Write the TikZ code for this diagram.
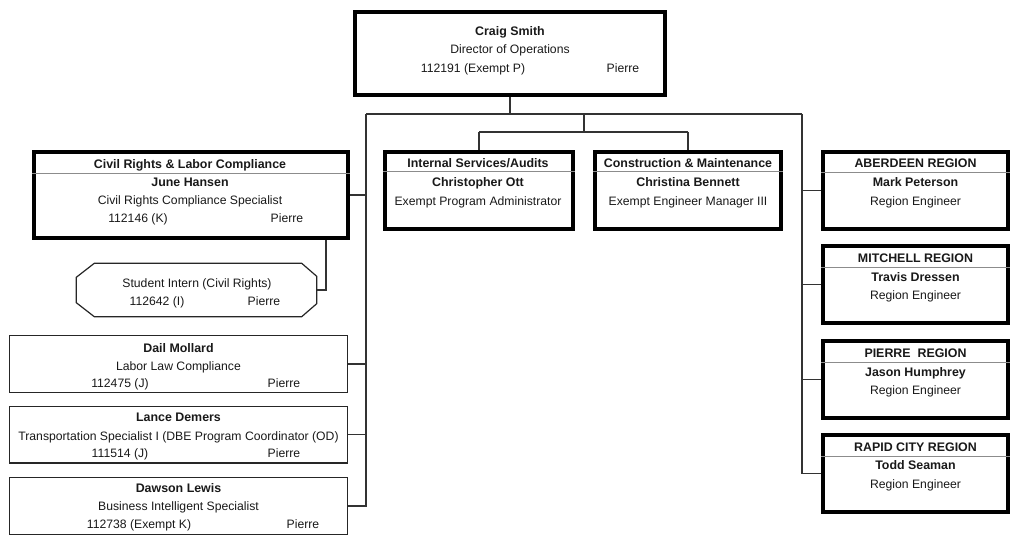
\documentclass[tikz,border=0pt]{standalone}
\usepackage{fontspec}
\setmainfont{Liberation Sans}
\usetikzlibrary{calc}
\begin{document}
\begin{tikzpicture}[x=1bp,y=-1bp,
  thickbox/.style={draw=black,line width=3.8bp,rectangle,inner sep=0pt,minimum width=#1},
  thinbox/.style={draw=black!85,line width=1.3bp,rectangle,inner sep=0pt,minimum width=337.7bp,minimum height=56.7bp},
  conn/.style={draw=black!80,line width=1.2bp},
  sepline/.style={draw=black!45,line width=0.8bp},
  txt/.style={anchor=base,yshift=-4.2bp,inner sep=0pt,text=black!90,font=\fontsize{12.2bp}{14bp}\selectfont},
  btxt/.style={txt,font=\fontsize{12.4bp}{14bp}\selectfont\bfseries}
]
\useasboundingbox (0,0) rectangle (1013,539);

% boxes
\node[thickbox=310.2bp,minimum height=83.2bp] (craig) at (510,53.5) {};
\node[thickbox=314.2bp,minimum height=86.2bp] (civil) at (191,195) {};
\node[thickbox=188.2bp,minimum height=77.2bp] (internal) at (479,190.5) {};
\node[thickbox=186.2bp,minimum height=77.2bp] (constr) at (688,190.5) {};
\node[thickbox=185.2bp,minimum height=77.2bp] (aber) at (915.5,190.5) {};
\node[thickbox=185.2bp,minimum height=77.2bp] (mitch) at (915.5,284.5) {};
\node[thickbox=185.2bp,minimum height=77.2bp] (pierre) at (915.5,379.5) {};
\node[thickbox=185.2bp,minimum height=77.2bp] (rapid) at (915.5,473.5) {};
\node[thinbox] (dail) at (178.5,364) {};
\node[thinbox] (lance) at (178.5,434.5) {};
\node[thinbox] (dawson) at (178.5,506) {};
\node[rectangle,inner sep=0pt,minimum width=240bp,minimum height=53bp] (student) at (196.5,290) {};
\draw[draw=black!85,line width=1.2bp]
  ($(student.north west)+(18,0)$) -- ($(student.north east)+(-15,0)$)
  -- ($(student.north east)+(0,13)$) -- ($(student.south east)+(0,-13)$)
  -- ($(student.south east)+(-15,0)$) -- ($(student.south west)+(18,0)$)
  -- ($(student.south west)+(0,-14)$) -- ($(student.north west)+(0,14)$) -- cycle;

% header separators
\draw[sepline] (civil.west |- 0,173) coordinate (cs1) -- (civil.east |- 0,173) coordinate (cs2);
\draw[sepline] (internal.west |- 0,171) coordinate (is1) -- (internal.east |- 0,171) coordinate (is2);
\draw[sepline] (constr.west |- 0,171) coordinate (ks1) -- (constr.east |- 0,171) coordinate (ks2);
\draw[sepline] (aber.west |- 0,172) coordinate (as1) -- (aber.east |- 0,172) coordinate (as2);
\draw[sepline] (mitch.west |- 0,267) coordinate (ms1) -- (mitch.east |- 0,267) coordinate (ms2);
\draw[sepline] (pierre.west |- 0,362) coordinate (ps1) -- (pierre.east |- 0,362) coordinate (ps2);
\draw[sepline] (rapid.west |- 0,456) coordinate (rs1) -- (rapid.east |- 0,456) coordinate (rs2);

% connectors
\coordinate (j1) at (510,114);
\coordinate (tl) at (366,114);
\coordinate (tr) at (802,114);
\coordinate (jm) at (584,114);
\coordinate (jm2) at (584,132);
\coordinate (mcl) at (479,132);
\coordinate (mcr) at (688,132);
\coordinate (sx) at (326,0);
\draw[conn] (craig.south) -- (j1);
\draw[conn] (tl) -- (tr);
\draw[conn] (jm) -- (jm2);
\draw[conn] (mcl) -- (mcr);
\draw[conn] (mcl) -- (internal.north);
\draw[conn] (mcr) -- (constr.north);
\draw[conn] (tl) |- (dawson.east);
\draw[conn] (civil.east) -- (civil.east -| tl);
\draw[conn] (dail.east) -- (dail.east -| tl);
\draw[conn] (lance.east) -- (lance.east -| tl);
\draw[conn] (tr) |- (rapid.west);
\draw[conn] (aber.west) -- (aber.west -| tr);
\draw[conn] (mitch.west) -- (mitch.west -| tr);
\draw[conn] (pierre.west) -- (pierre.west -| tr);
\draw[conn] (student.east) -| (sx |- civil.south);

% texts
\node[btxt] (t1) at (510,31) {Craig Smith};
\node[txt] (t2) at (510,49) {Director of Operations};
\node[txt] (t3) at (473,68) {112191 (Exempt P)};
\node[txt] (t4) at (623,68) {Pierre};

\node[btxt] (c1) at (190,164) {Civil Rights \& Labor Compliance};
\node[btxt] (c2) at (190,182) {June Hansen};
\node[txt] (c3) at (190,200) {Civil Rights Compliance Specialist};
\node[txt] (c4) at (138,218) {112146 (K)};
\node[txt] (c5) at (287,218) {Pierre};

\node[btxt] (i1) at (478,163) {Internal Services/Audits};
\node[btxt] (i2) at (478,182) {Christopher Ott};
\node[txt] (i3) at (478,201) {Exempt Program Administrator};

\node[btxt] (k1) at (688,163) {Construction \& Maintenance};
\node[btxt] (k2) at (688,182) {Christina Bennett};
\node[txt] (k3) at (688,201) {Exempt Engineer Manager III};

\node[btxt] (a1) at (915.5,163) {ABERDEEN REGION};
\node[btxt] (a2) at (915.5,182) {Mark Peterson};
\node[txt] (a3) at (915.5,201) {Region Engineer};

\node[btxt] (m1) at (915.5,258) {MITCHELL REGION};
\node[btxt] (m2) at (915.5,277) {Travis Dressen};
\node[txt] (m3) at (915.5,295) {Region Engineer};

\node[btxt] (p1) at (915.5,353) {PIERRE\ \ REGION};
\node[btxt] (p2) at (915.5,372) {Jason Humphrey};
\node[txt] (p3) at (915.5,390) {Region Engineer};

\node[btxt] (r1) at (915.5,447) {RAPID CITY REGION};
\node[btxt] (r2) at (915.5,465) {Todd Seaman};
\node[txt] (r3) at (915.5,484) {Region Engineer};

\node[txt] (s1) at (197,283) {Student Intern (Civil Rights)};
\node[txt] (s2) at (157,301) {112642 (I)};
\node[txt] (s3) at (264,301) {Pierre};

\node[btxt] (d1) at (178.5,348) {Dail Mollard};
\node[txt] (d2) at (178.5,366) {Labor Law Compliance};
\node[txt] (d3) at (120,383) {112475 (J)};
\node[txt] (d4) at (284,383) {Pierre};

\node[btxt] (l1) at (178.5,417) {Lance Demers};
\node[txt] (l2) at (178.5,436) {Transportation Specialist I (DBE Program Coordinator (OD)};
\node[txt] (l3) at (120,453) {111514 (J)};
\node[txt] (l4) at (284,453) {Pierre};

\node[btxt] (w1) at (178.5,488) {Dawson Lewis};
\node[txt] (w2) at (178.5,506) {Business Intelligent Specialist};
\node[txt] (w3) at (139,524) {112738 (Exempt K)};
\node[txt] (w4) at (303,524) {Pierre};
\end{tikzpicture}
\end{document}
